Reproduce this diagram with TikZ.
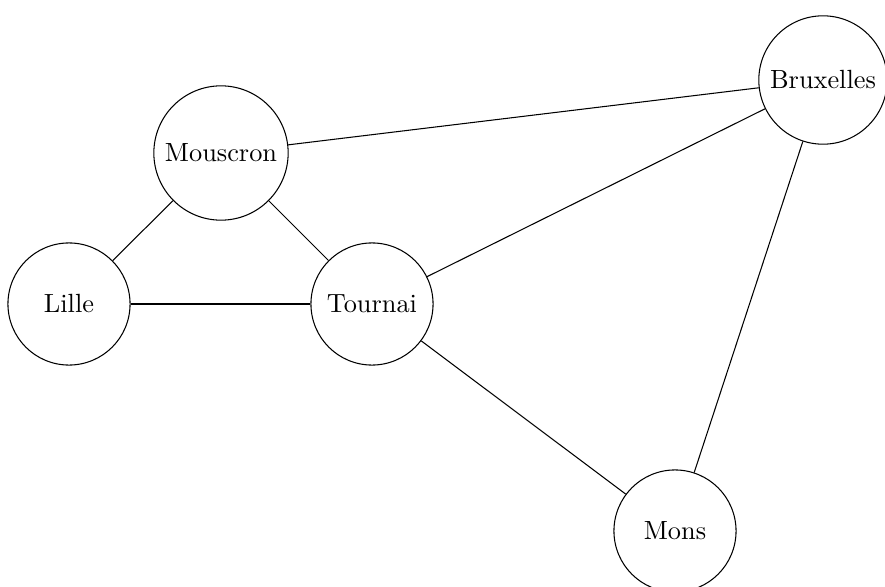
\documentclass[tikz,border=0pt]{standalone}
\begin{document}
\begin{tikzpicture}[x=0.38pt,y=-0.38pt,
  city/.style={circle,draw,thin,minimum size=46.4pt,inner sep=3.33pt,font=\normalsize},
  road/.style={draw,thin}]
\useasboundingbox (0,0) rectangle (885,587);
\node[city] (mouscron) at (221,153) {Mouscron};
\node[city] (lille) at (69,304) {Lille};
\node[city] (tournai) at (372,304) {Tournai};
\node[city] (bruxelles) at (823,80) {Bruxelles};
\node[city] (mons) at (675,531) {Mons};
\path[road] (lille) -- (mouscron);
\path[road] (lille) -- (tournai);
\path[road] (mouscron) -- (tournai);
\path[road] (mouscron) -- (bruxelles);
\path[road] (tournai) -- (bruxelles);
\path[road] (tournai) -- (mons);
\path[road] (bruxelles) -- (mons);
\end{tikzpicture}
\end{document}
